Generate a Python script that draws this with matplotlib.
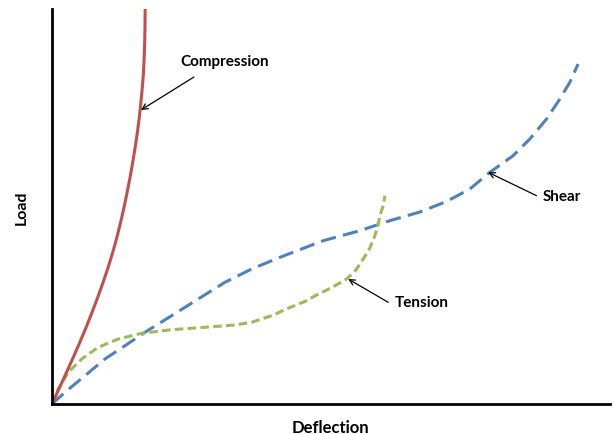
import matplotlib.pyplot as plt

# curves (arbitrary units: deflection, load)
comp_x = [0, 6.9, 13.8, 20.55, 27.15, 33.45, 39.45, 45.15, 50.55, 55.65, 60.3, 64.5, 68.25, 71.7,
          74.85, 77.78, 80.48, 82.95, 85.2, 87.15, 88.8, 90.23, 91.43, 92.18, 92.7, 93.0, 93.2]
comp_y = [0, 15, 30, 45, 60, 75, 90, 105, 120, 135, 150, 165, 180, 195,
          210, 225, 240, 255, 270, 285, 300, 315, 330, 345, 360, 375, 395]

tens_x = [0, 6.3, 16.3, 29.7, 46.3, 66.3, 89.7, 119.7, 153, 183, 199.7, 219.7, 238, 253, 264.7,
          280, 294.7, 304, 311.3, 318, 323, 326, 328, 331.3, 333]
tens_y = [0, 15, 31.7, 45, 56.7, 65, 70.7, 74.3, 76.7, 79, 81.7, 88.3, 96.5, 102.5, 109,
          116.5, 125, 134, 145, 156, 168.3, 178, 188.3, 198.3, 208.3]

shear_x = [0, 13, 33, 53, 73, 93, 119.7, 146.3, 173, 199.7, 226.3, 249.7, 271.3, 308, 338, 368,
           394.7, 418, 438, 461.3, 478, 494.7, 508, 518, 526.3]
shear_y = [0, 11.7, 28.3, 45, 58.3, 71.7, 88.3, 105, 121.7, 135, 146, 155, 163.3, 173.3, 183.3, 192,
           202.5, 215, 231.7, 248.3, 265, 285, 305, 321.7, 340]

labels = ["Compression", "Tension", "Shear"]
red = "#C0504D"
green = "#9BBB59"
blue = "#4F81BD"

fig = plt.figure(figsize=(6.13, 4.35), dpi=100)
ax = fig.add_axes([0.0848, 0.069, 0.910, 0.908])

ax.plot(shear_x, shear_y, color=blue, lw=2.2, dashes=(5, 2.4))
ax.plot(tens_x, tens_y, color=green, lw=2.2, dashes=(2.8, 1.4))
ax.plot(comp_x, comp_y, color=red, lw=2.2)

ax.set_xlim(0, 558)
ax.set_ylim(0, 395)
ax.set_xticks([])
ax.set_yticks([])
for s in ["top", "right"]:
    ax.spines[s].set_visible(False)
for s in ["left", "bottom"]:
    ax.spines[s].set_linewidth(2)

font = dict(family="Lato", fontweight="bold")
ax.set_xlabel("Deflection", labelpad=11, fontsize=12, **font)
ax.set_ylabel("Load", labelpad=17, fontsize=11.5, **font)

arrow = dict(arrowstyle="->", color="black", lw=0.9, shrinkA=0, shrinkB=0)
ax.annotate("", xy=(89, 294), xytext=(142, 327), arrowprops=arrow)
ax.annotate("", xy=(296.3, 125), xytext=(336.3, 101.7), arrowprops=arrow)
ax.annotate("", xy=(436.3, 231.7), xytext=(484.7, 208.3), arrowprops=arrow)
ax.text(173, 343, labels[0], ha="center", va="center", fontsize=11, **font)
ax.text(343, 102, labels[1], ha="left", va="center", fontsize=11, **font)
ax.text(491, 208, labels[2], ha="left", va="center", fontsize=11, **font)

fig.savefig("out.png", dpi=100)
